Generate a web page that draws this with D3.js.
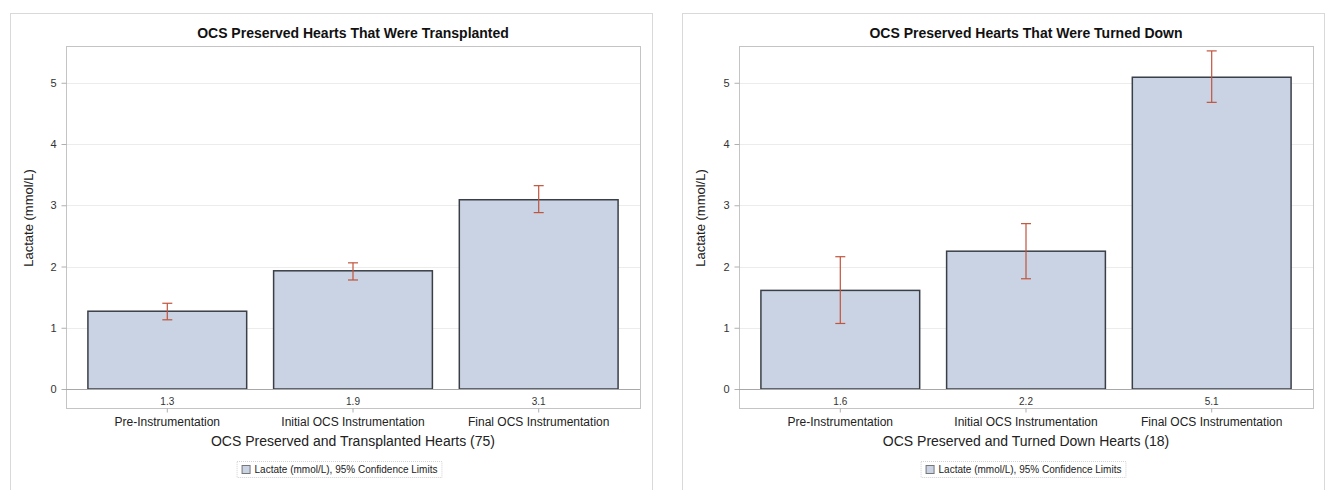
<!DOCTYPE html>
<html lang="en">
<head>
<meta charset="UTF-8">
<title>OCS Lactate</title>
<style>
  body { margin: 0; background: #fff; }
  text { font-family: "Liberation Sans", Arial, sans-serif; }
</style>
</head>
<body>
<div id="chart"></div>
<script src="https://cdn.jsdelivr.net/npm/d3@7"></script>
<script>
// categories and values
const categories = ["Pre-Instrumentation", "Initial OCS Instrumentation", "Final OCS Instrumentation"];
const yTicks = [0, 1, 2, 3, 4, 5];

const transplantedMean = [1.27, 1.93, 3.09];
const transplantedLower = [1.13, 1.78, 2.88];
const transplantedUpper = [1.40, 2.06, 3.32];
const transplantedLabels = ["1.3", "1.9", "3.1"];

const turnedDownMean = [1.61, 2.25, 5.09];
const turnedDownLower = [1.07, 1.80, 4.68];
const turnedDownUpper = [2.16, 2.70, 5.52];
const turnedDownLabels = ["1.6", "2.2", "5.1"];

const legendText = "Lactate (mmol/L), 95% Confidence Limits";
const yTitle = "Lactate (mmol/L)";

const panels = [
    {title: "OCS Preserved Hearts That Were Transplanted", xTitle: "OCS Preserved and Transplanted Hearts (75)",
     mean: transplantedMean, lower: transplantedLower, upper: transplantedUpper, labels: transplantedLabels,
     box: [10, 13, 652], plot: [66, 640], legendCx: 340},
    {title: "OCS Preserved Hearts That Were Turned Down", xTitle: "OCS Preserved and Turned Down Hearts (18)",
     mean: turnedDownMean, lower: turnedDownLower, upper: turnedDownUpper, labels: turnedDownLabels,
     box: [682, 13, 1324], plot: [739, 1313], legendCx: 1024}
];

const W = 1325, H = 490;
const plotTop = 46, plotBottom = 408;

const svg = d3.select("#chart").append("svg")
    .attr("width", W)
    .attr("height", H);

const y = d3.scaleLinear().domain([-0.31, 5.6]).range([plotBottom, plotTop]);

panels.forEach(p => {
    const g = svg.append("g");

    // outer panel border
    g.append("rect")
        .attr("x", p.box[0] + 0.5).attr("y", p.box[1] + 0.5)
        .attr("width", p.box[2] - p.box[0]).attr("height", H)
        .attr("fill", "#fff").attr("stroke", "#d9d9d9");

    const x = d3.scaleBand().domain(categories)
        .range([p.plot[0], p.plot[1]])
        .paddingInner(0.145).paddingOuter(0.118);

    // grid lines
    g.append("g").selectAll("line").data(yTicks.filter(t => t > 0)).join("line")
        .attr("x1", p.plot[0]).attr("x2", p.plot[1])
        .attr("y1", d => Math.round(y(d)) + 0.5).attr("y2", d => Math.round(y(d)) + 0.5)
        .attr("stroke", "#ececec");

    // plot frame
    g.append("rect")
        .attr("x", p.plot[0] + 0.5).attr("y", plotTop + 0.5)
        .attr("width", p.plot[1] - p.plot[0]).attr("height", plotBottom - plotTop)
        .attr("fill", "none").attr("stroke", "#c4c4c4");

    // y axis
    const yAxis = g.append("g")
        .attr("transform", "translate(" + (p.plot[0] + 0.5) + ",0)")
        .call(d3.axisLeft(y).tickValues(yTicks).tickFormat(d3.format("d")).tickSize(5).tickPadding(5));
    yAxis.select(".domain").remove();
    yAxis.selectAll("line").attr("stroke", "#b0b0b0");
    yAxis.selectAll("text").attr("font-size", 11).attr("fill", "#333")
        .attr("font-family", "'Liberation Sans', Arial, sans-serif");

    // bars
    g.append("g").selectAll("rect").data(p.mean).join("rect")
        .attr("x", (d, i) => x(categories[i]))
        .attr("y", d => y(d))
        .attr("width", x.bandwidth())
        .attr("height", d => y(0) - y(d))
        .attr("fill", "#c9d3e3")
        .attr("stroke", "#3a3f47")
        .attr("stroke-width", 1.5);

    // zero reference line
    g.append("line")
        .attr("x1", p.plot[0]).attr("x2", p.plot[1])
        .attr("y1", Math.round(y(0)) + 0.5).attr("y2", Math.round(y(0)) + 0.5)
        .attr("stroke", "#a8a8a8");

    // error bars
    const err = g.append("g").attr("stroke", "#c0543c").attr("stroke-width", 1.2);
    p.mean.forEach((m, i) => {
        const cx = x(categories[i]) + x.bandwidth() / 2;
        err.append("line").attr("x1", cx).attr("x2", cx)
            .attr("y1", y(p.lower[i])).attr("y2", y(p.upper[i]));
        [p.lower[i], p.upper[i]].forEach(v => {
            err.append("line").attr("x1", cx - 5).attr("x2", cx + 5)
                .attr("y1", y(v)).attr("y2", y(v));
        });
    });

    // value labels inside the plot, under the bars
    g.append("g").selectAll("text").data(p.labels).join("text")
        .attr("x", (d, i) => x(categories[i]) + x.bandwidth() / 2)
        .attr("y", 405)
        .attr("text-anchor", "middle")
        .attr("font-size", 10).attr("fill", "#333")
        .text(d => d);

    // x axis
    const xAxis = g.append("g")
        .attr("transform", "translate(0," + (plotBottom + 0.5) + ")")
        .call(d3.axisBottom(x).tickSize(4).tickPadding(5));
    xAxis.select(".domain").remove();
    xAxis.selectAll("line").attr("stroke", "#b0b0b0");
    xAxis.selectAll("text").attr("font-size", 12).attr("fill", "#222")
        .attr("font-family", "'Liberation Sans', Arial, sans-serif");

    const cxPlot = (p.plot[0] + p.plot[1]) / 2;

    // titles
    g.append("text")
        .attr("x", cxPlot).attr("y", 38)
        .attr("text-anchor", "middle")
        .attr("font-size", 14).attr("font-weight", "bold").attr("fill", "#111")
        .text(p.title);

    g.append("text")
        .attr("x", cxPlot).attr("y", 446)
        .attr("text-anchor", "middle")
        .attr("font-size", 14).attr("fill", "#222")
        .text(p.xTitle);

    g.append("text")
        .attr("transform", "translate(" + (p.box[0] + 23) + ",218) rotate(-90)")
        .attr("text-anchor", "middle")
        .attr("font-size", 13).attr("fill", "#222")
        .text(yTitle);

    // legend
    const leg = g.append("g");
    const lt = leg.append("text")
        .attr("y", 473)
        .attr("font-size", 10).attr("fill", "#222")
        .text(legendText);
    const tw = lt.node().getComputedTextLength();
    const legW = tw + 16;
    const lx = p.legendCx - legW / 2;
    lt.attr("x", lx + 14);
    leg.insert("rect", "text")
        .attr("x", lx - 3.5).attr("y", 461.5)
        .attr("width", legW + 6).attr("height", 16)
        .attr("fill", "none").attr("stroke", "#d0d0d0").attr("stroke-dasharray", "1,1");
    leg.append("rect")
        .attr("x", lx + 1.5).attr("y", 465.5)
        .attr("width", 8).attr("height", 8)
        .attr("fill", "#c9d3e3").attr("stroke", "#777");
});
</script>
</body>
</html>
